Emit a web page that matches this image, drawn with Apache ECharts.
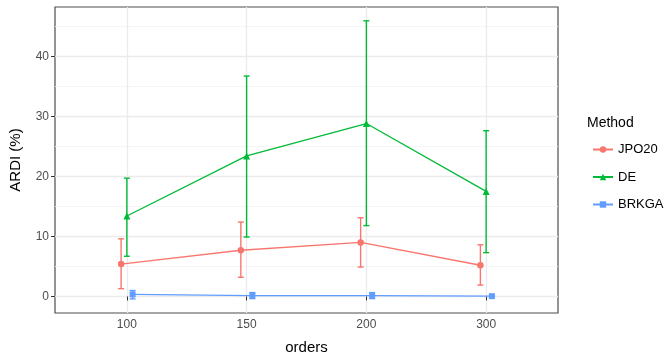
<!DOCTYPE html>
<html><head><meta charset="utf-8">
<script src="https://cdn.jsdelivr.net/npm/echarts@6/dist/echarts.min.js"></script>
<style>html,body{margin:0;padding:0;background:#fff}#c{width:666px;height:360px}</style>
</head><body><div id="c"></div>
<script>
const categories = ['100', '150', '200', '300'];
const methods = ['JPO20', 'DE', 'BRKGA'];
const jpoMean = [5.4, 7.7, 9.0, 5.2];
const jpoLow = [1.3, 3.2, 4.9, 1.9];
const jpoHigh = [9.6, 12.4, 13.1, 8.6];
const deMean = [13.4, 23.4, 28.8, 17.5];
const deLow = [6.7, 9.9, 11.8, 7.3];
const deHigh = [19.7, 36.7, 45.9, 27.6];
const brMean = [0.35, 0.15, 0.15, 0.05];
const brLow = [-0.4, -0.35, -0.35, -0.05];
const brHigh = [1.0, 0.65, 0.65, 0.15];
const yTicks = [0, 10, 20, 30, 40];
const yMinor = [5, 15, 25, 35, 45];

const colors = ['#F8766D', '#00BA38', '#619CFF'];
const symbols = ['circle', 'triangle', 'rect'];
const symSizes = [6.5, 7, 6];
const dodge = [-0.048, 0, 0.048];
const means = [jpoMean, deMean, brMean];
const lows = [jpoLow, deLow, brLow];
const highs = [jpoHigh, deHigh, brHigh];
const xIdx = categories.map((c, i) => i + 1);

const series = [];
methods.forEach((m, k) => {
  series.push({
    name: m, type: 'line', z: 3,
    data: categories.map((c, i) => [xIdx[i] + dodge[k], means[k][i]]),
    symbol: symbols[k], symbolSize: symSizes[k], showSymbol: true,
    lineStyle: {color: colors[k], width: 1.3},
    itemStyle: {color: colors[k]},
    animation: false
  });
});
methods.forEach((m, k) => {
  series.push({
    name: m + ' error', type: 'custom', z: 2, silent: true,
    itemStyle: {color: colors[k]},
    data: categories.map((c, i) => [xIdx[i] + dodge[k], lows[k][i], highs[k][i]]),
    encode: {x: 0, y: [1, 2]},
    renderItem: (params, api) => {
      const x = api.value(0);
      const lo = api.coord([x, api.value(1)]);
      const hi = api.coord([x, api.value(2)]);
      const hw = api.size([0.05, 0])[0] / 2;
      const st = {stroke: colors[k], lineWidth: 1.4, fill: null};
      return {type: 'group', children: [
        {type: 'line', shape: {x1: lo[0], y1: lo[1], x2: hi[0], y2: hi[1]}, style: st},
        {type: 'line', shape: {x1: lo[0] - hw, y1: lo[1], x2: lo[0] + hw, y2: lo[1]}, style: st},
        {type: 'line', shape: {x1: hi[0] - hw, y1: hi[1], x2: hi[0] + hw, y2: hi[1]}, style: st}
      ]};
    }
  });
});
// gridlines series
series.push({
  name: 'grid', type: 'line', data: [], silent: true, z: 0,
  markLine: {
    silent: true, z: 0, symbol: ['none', 'none'], animation: false, label: {show: false},
    data: [
      ...yMinor.map(v => ({yAxis: v, lineStyle: {color: '#F2F2F2', width: 0.8, type: 'solid'}})),
      ...yTicks.map(v => ({yAxis: v, lineStyle: {color: '#EBEBEB', width: 1.3, type: 'solid'}})),
      ...xIdx.map(v => ({xAxis: v, lineStyle: {color: '#EBEBEB', width: 1.3, type: 'solid'}}))
    ]
  }
});

const chart = echarts.init(document.getElementById('c'), null, {renderer: 'canvas'});
chart.setOption({
  animation: false,
  backgroundColor: '#fff',
  color: colors,
  textStyle: {fontFamily: 'Liberation Sans, Arial, sans-serif'},
  title: {text: 'Method', left: 582, top: 111, textStyle: {fontSize: 14, fontWeight: 'normal', color: '#000', fontFamily: 'Liberation Sans, Arial, sans-serif'}},
  legend: {
    orient: 'vertical', left: 587, top: 138, itemWidth: 20, itemHeight: 8, itemGap: 14.5,
    data: methods,
    textStyle: {fontSize: 13, color: '#000'}
  },
  grid: {left: 54, right: 108, top: 7, bottom: 43, show: true, borderColor: '#4D4D4D', borderWidth: 1.2, backgroundColor: 'transparent'},
  xAxis: {
    type: 'value', min: 0.4, max: 4.6,
    name: 'orders', nameLocation: 'middle', nameGap: 27,
    nameTextStyle: {fontSize: 15, color: '#000'},
    axisLine: {show: false},
    axisTick: {show: true, length: 4, lineStyle: {color: '#333'}, customValues: xIdx},
    axisLabel: {customValues: xIdx, formatter: v => categories[Math.round(v) - 1], fontSize: 12, color: '#4D4D4D', margin: 6},
    splitLine: {show: false}
  },
  yAxis: {
    type: 'value', min: -2.75, max: 48.2,
    name: 'ARDI (%)', nameLocation: 'middle', nameGap: 32,
    nameTextStyle: {fontSize: 15, color: '#000'},
    axisLine: {show: false},
    axisTick: {show: true, length: 4, lineStyle: {color: '#333'}, customValues: yTicks},
    axisLabel: {customValues: yTicks, fontSize: 12, color: '#4D4D4D', margin: 6},
    splitLine: {show: false}
  },
  series: series
});
</script>
</body></html>
